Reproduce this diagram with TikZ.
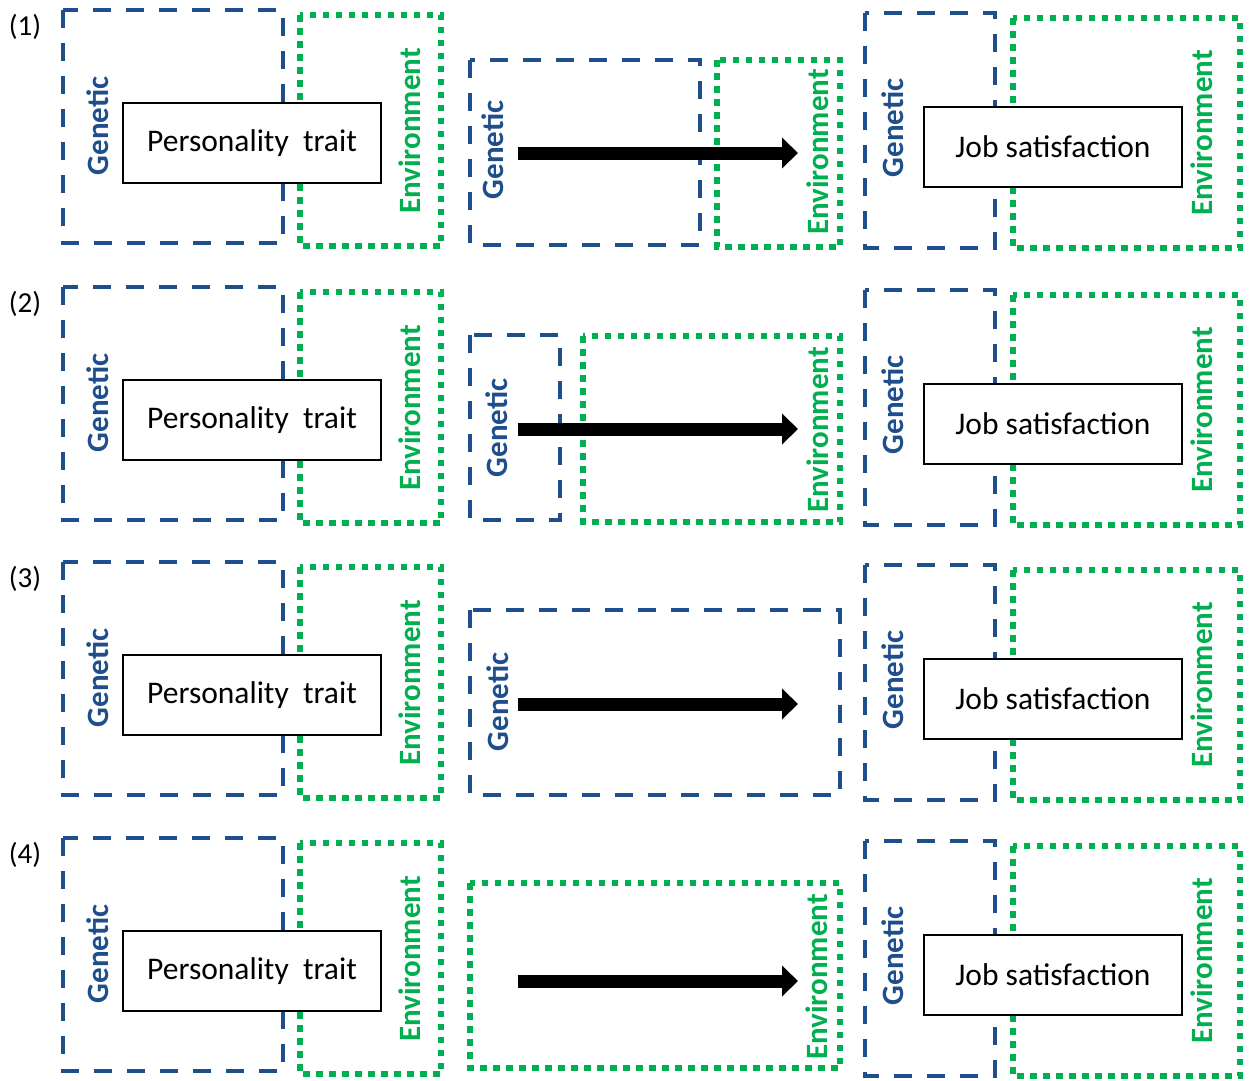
\documentclass[tikz,border=0pt]{standalone}
\usepackage{fontspec}
\setmainfont{Carlito}
\usetikzlibrary{arrows.meta}
\definecolor{gblue}{HTML}{1F4E8C}
\definecolor{egreen}{HTML}{00B050}
\begin{document}
\begin{tikzpicture}[x=1pt,y=-1pt,
 genframe/.style={draw=gblue,line width=4.5pt,dash pattern=on 18pt off 15pt},
 envframe/.style={draw=egreen,line width=6.5pt,dash pattern=on 6.5pt off 6.5pt},
 gentext/.style={text=gblue,font=\fontsize{31}{31}\selectfont\bfseries,rotate=90,inner sep=0pt},
 envtext/.style={text=egreen,font=\fontsize{31}{31}\selectfont\bfseries,rotate=90,inner sep=0pt},
 varbox/.style={draw=black,line width=2.2pt,fill=white,minimum width=258pt,minimum height=80pt,font=\fontsize{31.5}{36}\selectfont,inner sep=0pt},
 bigarrow/.style={line width=13pt,-{Triangle[length=16pt,width=30pt]}},
 rowlabel/.style={font=\fontsize{29}{29}\selectfont,inner sep=0pt}]
\useasboundingbox (0,0) rectangle (1250,1080);
\fill[white] (0,0) rectangle (1250,1080);
% left and right panels
\foreach \r/\dy in {1/0,2/277,3/552,4/828}{
 \node[rowlabel] (lab\r) at (25,27+\dy) {(\r)};
 \draw[genframe] (63,10+\dy) rectangle (283,243+\dy);
 \draw[envframe] (300,15+\dy) rectangle (441,246+\dy);
 \node[gentext] (lg\r) at (98,126+\dy) {Genetic};
 \node[envtext] (le\r) at (410,131+\dy) {Environment};
 \node[varbox] (pt\r) at (252,143+\dy) {Personality\ \ trait};
 \draw[genframe] (865,13+\dy) rectangle (995,248+\dy);
 \draw[envframe] (1013,18+\dy) rectangle (1240,248+\dy);
 \node[gentext] (rg\r) at (893,128+\dy) {Genetic};
 \node[envtext] (re\r) at (1202,133+\dy) {Environment};
 \node[varbox] (js\r) at (1053,147+\dy) {Job satisfaction};
}
% middle row 1
\draw[genframe] (470,60) rectangle (700,245);
\draw[envframe] (717,60) rectangle (840,247);
\node[gentext] (mg1) at (493,150) {Genetic};
\node[envtext] (me1) at (818,152) {Environment};
\coordinate (a1s) at (518,153);
\coordinate (a1e) at (798,153);
\draw[bigarrow] (a1s) -- (a1e);
% middle row 2
\draw[genframe] (470,335) rectangle (560,520);
\draw[envframe] (583,336) rectangle (840,522);
\node[gentext] (mg2) at (497,428) {Genetic};
\node[envtext] (me2) at (818,430) {Environment};
\coordinate (a2s) at (518,429);
\coordinate (a2e) at (798,429);
\draw[bigarrow] (a2s) -- (a2e);
% middle row 3
\draw[genframe] (470,610) rectangle (840,795);
\node[gentext] (mg3) at (498,702) {Genetic};
\coordinate (a3s) at (518,704);
\coordinate (a3e) at (798,704);
\draw[bigarrow] (a3s) -- (a3e);
% middle row 4
\draw[envframe] (470,883) rectangle (840,1068);
\node[envtext] (me4) at (817,977) {Environment};
\coordinate (a4s) at (518,981);
\coordinate (a4e) at (798,981);
\draw[bigarrow] (a4s) -- (a4e);
\end{tikzpicture}
\end{document}
